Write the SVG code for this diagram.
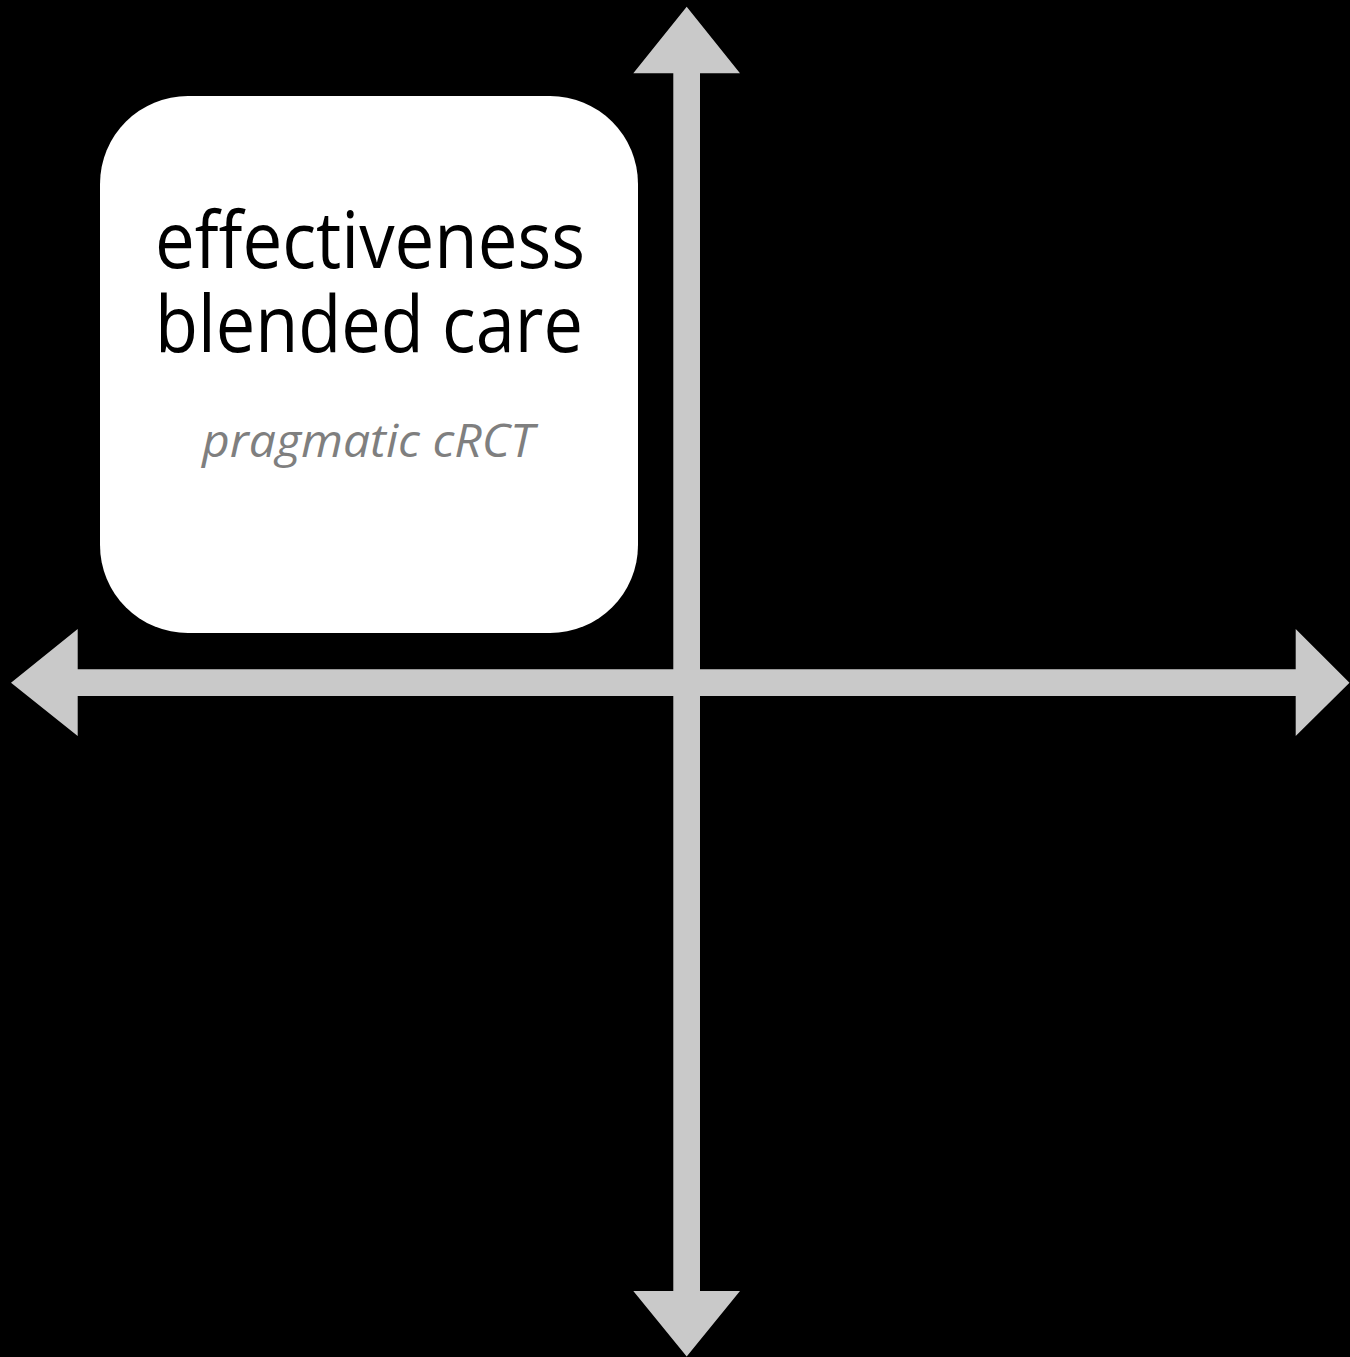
<svg xmlns="http://www.w3.org/2000/svg" width="1350" height="1357" viewBox="0 0 1350 1357">
  <style>
    .axis { fill: #c9c9c9; }
    .box { fill: #ffffff; }
    .title { font-family: "Open Sans", "Liberation Sans", sans-serif; font-size: 79px; fill: #000000; text-anchor: middle; }
    .sub { font-family: "Open Sans", "Liberation Sans", sans-serif; font-size: 45px; font-style: italic; fill: #7f7f7f; text-anchor: middle; }
  </style>
  <rect x="0" y="0" width="1350" height="1357" fill="#000000"/>
  <g id="connectors">
    <polygon class="axis" points="686.7,6.7 740,73.3 700,73.3 700,1291 740,1291 686.7,1356.5 633.3,1291 673.3,1291 673.3,73.3 633.3,73.3"/>
    <polygon class="axis" points="11,682.7 77.7,629 77.7,669.3 1295.7,669.3 1295.7,629 1349.5,682.7 1295.7,736 1295.7,696 77.7,696 77.7,736"/>
  </g>
  <g id="node-effectiveness">
    <rect class="box" x="100" y="96" width="538" height="537" rx="88" ry="88"/>
    <text class="title"><tspan x="370" y="268" textLength="430" lengthAdjust="spacingAndGlyphs">effectiveness</tspan><tspan x="369" y="352" textLength="428" lengthAdjust="spacingAndGlyphs">blended care</tspan></text>
    <text class="sub" x="368" y="457" textLength="332" lengthAdjust="spacingAndGlyphs">pragmatic cRCT</text>
  </g>
</svg>
